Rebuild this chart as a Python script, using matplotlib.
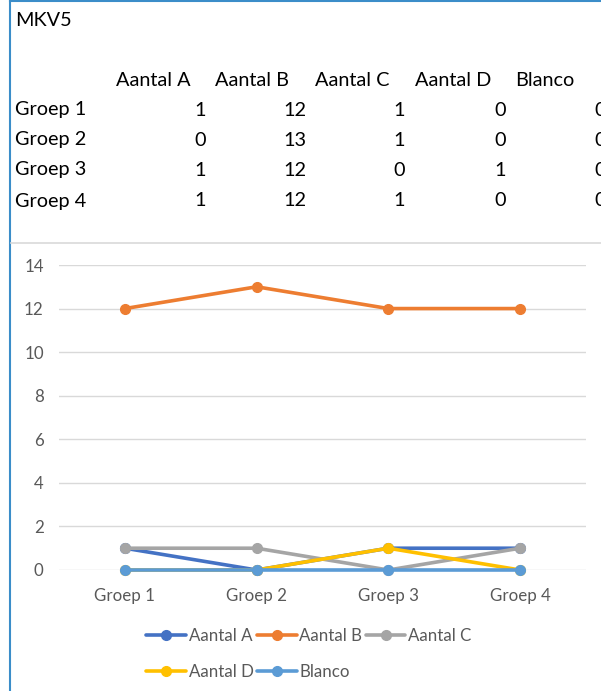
import matplotlib
matplotlib.use("Agg")
import matplotlib.pyplot as plt
from matplotlib.lines import Line2D

# ---- data ----
title = "MKV5"
groups = ["Groep 1", "Groep 2", "Groep 3", "Groep 4"]
series_names = ["Aantal A", "Aantal B", "Aantal C", "Aantal D", "Blanco"]
aantal_a = [1, 0, 1, 1]
aantal_b = [12, 13, 12, 12]
aantal_c = [1, 1, 0, 1]
aantal_d = [0, 0, 1, 0]
blanco = [0, 0, 0, 0]
y_ticks = [0, 2, 4, 6, 8, 10, 12, 14]

series_values = [aantal_a, aantal_b, aantal_c, aantal_d, blanco]
colors = ["#4472C4", "#ED7D31", "#A5A5A5", "#FFC000", "#5B9BD5"]

W, H = 601, 691
plt.rcParams['font.family'] = ['Lato', 'DejaVu Sans']
fig = plt.figure(figsize=(W / 100, H / 100), dpi=100)
fig.patch.set_facecolor("white")


def fx(x):
    return x / W


def fy(y):
    return 1 - y / H


# ---- sheet table ----
fs_table = 14.3
fig.text(fx(15), fy(21), title, fontsize=fs_table, ha="left", va="center", color="black")
header_x = [116, 215, 315, 415, 515]
for name, x in zip(series_names, header_x):
    fig.text(fx(x), fy(80), name, fontsize=fs_table, ha="left", va="center", color="black")
row_y = [110, 140, 170, 201]
col_right = [206, 306, 405, 506, 606]
for i, g in enumerate(groups):
    fig.text(fx(15), fy(row_y[i]), g, fontsize=fs_table, ha="left", va="center", color="black")
    for j, vals in enumerate(series_values):
        fig.text(fx(col_right[j]), fy(row_y[i]), str(vals[i]), fontsize=fs_table,
                 ha="right", va="center", color="black")

# borders / separators
fig.add_artist(Line2D([fx(10), fx(10)], [0, 1], color="#3B8DC9", lw=1.5, transform=fig.transFigure))
fig.add_artist(Line2D([fx(10), 1], [fy(1), fy(1)], color="#3B8DC9", lw=1.5, transform=fig.transFigure))
fig.add_artist(Line2D([fx(11), 1], [fy(243), fy(243)], color="#D9D9D9", lw=1.2, transform=fig.transFigure))

# ---- chart ----
left, right = 59, 586
top, bottom = 265, 570
ax = fig.add_axes([fx(left), fy(bottom), (right - left) / W, (bottom - top) / H])
ax.set_facecolor("white")
xs = list(range(len(groups)))
for name, vals, c in zip(series_names, series_values, colors):
    ax.plot(xs, vals, color=c, lw=2.6, marker="o", markersize=7, label=name,
            solid_capstyle="round", zorder=3, clip_on=False)

ax.set_xlim(-0.5, len(groups) - 0.5)
ax.set_ylim(0, 14)
ax.set_yticks(y_ticks)
ax.set_xticks(xs)
ax.set_xticklabels(groups)
ax.grid(axis="y", color="#D9D9D9", lw=1.0, zorder=0)
ax.set_axisbelow(True)
for s in ax.spines.values():
    s.set_visible(False)
ax.tick_params(axis="both", length=0, colors="#595959", labelsize=12.2)
ax.tick_params(axis="y", pad=11)
ax.tick_params(axis="x", pad=13)

handles, labels = ax.get_legend_handles_labels()
order = [0, 3, 1, 4, 2]
leg = fig.legend([handles[i] for i in order], [labels[i] for i in order],
                 ncol=3, loc="center left", bbox_to_anchor=(fx(131), fy(654)),
                 frameon=False, fontsize=12.2, handlelength=2.35, handletextpad=0.15,
                 columnspacing=0.2, labelspacing=1.2, labelcolor="#595959")

fig.savefig("out.png", dpi=100, facecolor="white")
